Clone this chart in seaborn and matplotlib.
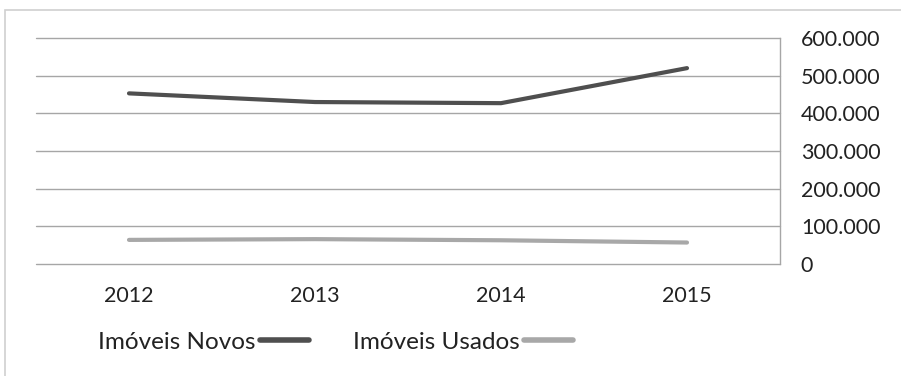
import matplotlib
matplotlib.use("Agg")
import matplotlib.pyplot as plt
import seaborn as sns
import pandas as pd
from matplotlib.patches import Rectangle
from matplotlib.lines import Line2D
from matplotlib.ticker import FuncFormatter, FixedLocator

years = ["2012", "2013", "2014", "2015"]
novos = [453000, 430000, 427000, 520000]
usados = [64000, 66000, 63000, 57000]
series_names = ["Imóveis Novos", "Imóveis Usados"]
yticks = [0, 100000, 200000, 300000, 400000, 500000, 600000]

df = pd.DataFrame({
    "ano": years * 2,
    "valor": novos + usados,
    "serie": [series_names[0]] * 4 + [series_names[1]] * 4,
})
df["pos"] = list(range(4)) * 2

sns.set_style("white")
plt.rcParams["font.family"] = ["Lato", "DejaVu Sans"]

W, H = 901, 376
fig = plt.figure(figsize=(W / 100, H / 100), dpi=100)
fig.patches.append(Rectangle((5 / W, -0.1), 1.2, 1 - 10 / H + 0.1, transform=fig.transFigure,
                             fill=False, edgecolor="#d0d0d0", linewidth=1.2))
ax = fig.add_axes([36 / W, 1 - 264 / H, (780 - 36) / W, (264 - 38) / H])

palette = {series_names[0]: "#4f4f4f", series_names[1]: "#a8a8a8"}
sns.lineplot(data=df, x="pos", y="valor", hue="serie", palette=palette, linewidth=3,
             ax=ax, legend=False)

ax.set_xlim(-0.5, 3.5)
ax.set_ylim(0, 600000)
ax.set_xticks(range(4))
ax.set_xticklabels(years)
ax.yaxis.set_major_locator(FixedLocator(yticks))
ax.yaxis.set_major_formatter(FuncFormatter(lambda v, p: "0" if v == 0 else f"{int(v):,}".replace(",", ".")))
ax.yaxis.tick_right()
ax.tick_params(axis="y", length=0, pad=15, labelsize=15.5, colors="#222222")
ax.tick_params(axis="x", length=0, pad=16, labelsize=15.5, colors="#222222")
for lab in ax.get_yticklabels():
    lab.set_horizontalalignment("left")
ax.grid(axis="y", color="#a6a6a6", linewidth=1)
for gl in ax.get_ygridlines():
    gl.set_clip_on(False)
ax.set_axisbelow(True)
for s in ["left", "top", "bottom"]:
    ax.spines[s].set_visible(False)
ax.spines["right"].set_color("#a6a6a6")
ax.spines["right"].set_linewidth(1)
ax.set_xlabel("")
ax.set_ylabel("")

handles = [Line2D([], [], color=palette[n], linewidth=4) for n in series_names]
fig.legend(handles, series_names, loc="center left", bbox_to_anchor=(98 / W, 1 - 342 / H),
           ncol=2, frameon=False, markerfirst=False, handlelength=2.0, handletextpad=0.2,
           columnspacing=1.8, fontsize=17.5, labelcolor="#222222", borderpad=0, borderaxespad=0)

fig.savefig("out.png", dpi=100)
